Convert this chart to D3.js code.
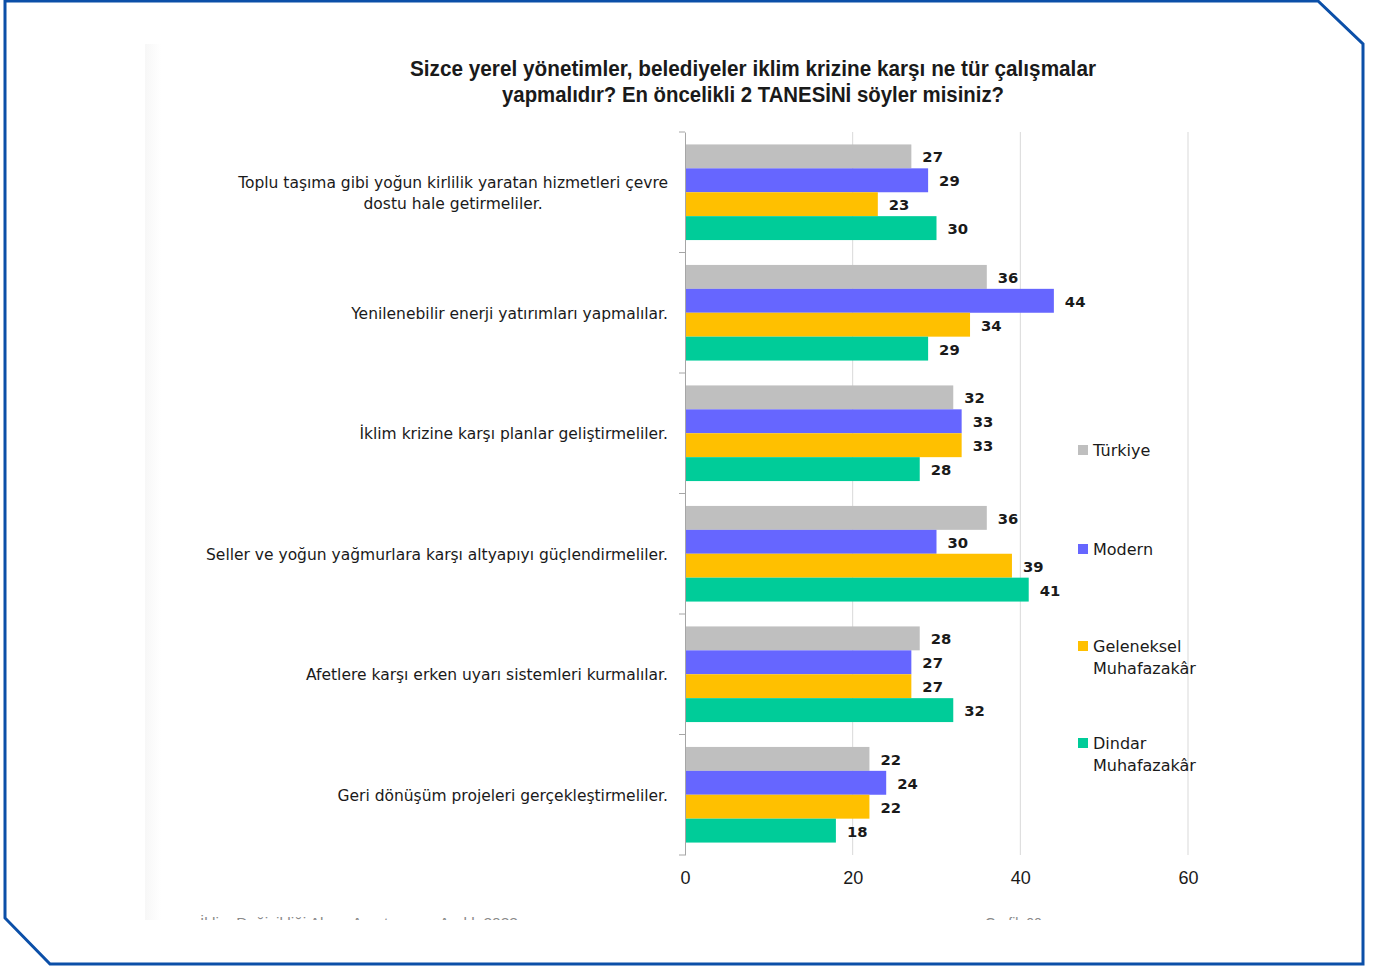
<!DOCTYPE html>
<html><head><meta charset="utf-8">
<script src="https://cdn.jsdelivr.net/npm/d3@7/dist/d3.min.js"></script>
<style>html,body{margin:0;padding:0;background:#fff;}svg{display:block;}</style>
</head><body>
<svg id="c" width="1382" height="967"></svg>
<script>
const categories = [
  ["Toplu taşıma gibi yoğun kirlilik yaratan hizmetleri çevre", "dostu hale getirmeliler."],
  ["Yenilenebilir enerji yatırımları yapmalılar."],
  ["İklim krizine karşı planlar geliştirmeliler."],
  ["Seller ve yoğun yağmurlara karşı altyapıyı güçlendirmeliler."],
  ["Afetlere karşı erken uyarı sistemleri kurmalılar."],
  ["Geri dönüşüm projeleri gerçekleştirmeliler."]
];
const seriesNames = ["Türkiye", "Modern", "Geleneksel Muhafazakâr", "Dindar Muhafazakâr"];
const legendLines = [["Türkiye"], ["Modern"], ["Geleneksel", "Muhafazakâr"], ["Dindar", "Muhafazakâr"]];
const turkiye    = [27, 36, 32, 36, 28, 22];
const modern     = [29, 44, 33, 30, 27, 24];
const geleneksel = [23, 34, 33, 39, 27, 22];
const dindar     = [30, 29, 28, 41, 32, 18];
const xTicks = [0, 20, 40, 60];
const colors = ["#bfbfbf", "#6666ff", "#ffc000", "#00cc99"];
const titleLines = ["Sizce yerel yönetimler, belediyeler iklim krizine karşı ne tür çalışmalar",
                    "yapmalıdır? En öncelikli 2 TANESİNİ söyler misiniz?"];

const seriesValues = [turkiye, modern, geleneksel, dindar];
const catKeys = categories.map((c, i) => "c" + i);

const svg = d3.select("#c");
const defs = svg.append("defs");

// outer frame
svg.append("path")
  .attr("d", "M5,1 L1318,1 L1363,44 L1363,964 L50,964 L5,918 Z")
  .attr("fill", "none").attr("stroke", "#0b4fa8").attr("stroke-width", 3);

// faint panel edge
const grad = defs.append("linearGradient").attr("id", "edge");
grad.append("stop").attr("offset", "0").attr("stop-color", "#f7f7f7");
grad.append("stop").attr("offset", "1").attr("stop-color", "#ffffff");
svg.append("rect").attr("x", 145).attr("y", 44).attr("width", 16).attr("height", 876).attr("fill", "url(#edge)");

defs.append("clipPath").attr("id", "clipFoot")
  .append("rect").attr("x", 0).attr("y", 0).attr("width", 1382).attr("height", 920);

const x = d3.scaleLinear().domain([0, 60]).range([685, 1188]);
const y0 = d3.scaleBand().domain(catKeys).range([132, 855]).padding(0);
const y1 = d3.scaleBand().domain(seriesNames).range([0, y0.bandwidth()]).paddingInner(0).paddingOuter(0.52);

// title
const titleWidths = [686, 502];
svg.append("g").selectAll("text").data(titleLines).join("text")
  .attr("x", 753).attr("y", (d, i) => 76 + i * 26)
  .attr("text-anchor", "middle")
  .attr("font-family", "'Liberation Sans Narrow', 'Arial Narrow', 'Liberation Sans', sans-serif")
  .attr("font-weight", "bold").attr("font-size", 22).attr("fill", "#1a1a1a")
  .attr("textLength", (d, i) => titleWidths[i]).attr("lengthAdjust", "spacingAndGlyphs")
  .text(d => d);

// gridlines
svg.append("g").selectAll("line").data(xTicks.filter(t => t > 0)).join("line")
  .attr("x1", d => x(d)).attr("x2", d => x(d))
  .attr("y1", 132).attr("y2", 855)
  .attr("stroke", "#d9d9d9").attr("stroke-width", 1);

// bars
const groups = svg.append("g").selectAll("g").data(catKeys).join("g")
  .attr("transform", d => `translate(0,${y0(d)})`);

groups.each(function (key, ci) {
  const g = d3.select(this);
  const vals = seriesNames.map((s, si) => ({ s, si, v: seriesValues[si][ci] }));
  g.selectAll("rect").data(vals).join("rect")
    .attr("x", x(0)).attr("y", d => y1(d.s))
    .attr("width", d => x(d.v) - x(0)).attr("height", y1.bandwidth())
    .attr("fill", d => colors[d.si]);
  g.selectAll("text").data(vals).join("text")
    .attr("x", d => x(d.v) + 11).attr("y", d => y1(d.s) + y1.bandwidth() / 2 + 6)
    .attr("font-family", "'DejaVu Sans', sans-serif").attr("font-weight", "bold")
    .attr("font-size", 14.8).attr("fill", "#1a1a1a")
    .text(d => d.v);
});

// y axis (left)
const yAxis = d3.axisLeft(y0).tickSize(0).tickFormat("");
const ya = svg.append("g").attr("transform", `translate(${x(0)},0)`).call(yAxis);
ya.select(".domain").attr("stroke", "#a6a6a6");
const boundaries = catKeys.map(k => y0(k)).concat([y0.range()[1]]);
svg.append("g").selectAll("line").data(boundaries).join("line")
  .attr("x1", x(0) - 6).attr("x2", x(0)).attr("y1", d => d).attr("y2", d => d)
  .attr("stroke", "#a6a6a6").attr("stroke-width", 1);

// category labels
const catG = svg.append("g");
categories.forEach((lines, i) => {
  const cy = y0(catKeys[i]) + y0.bandwidth() / 2;
  const t = catG.append("text")
    .attr("font-family", "'DejaVu Sans', sans-serif")
    .attr("font-size", 15.5).attr("fill", "#1a1a1a");
  const n = lines.length;
  const tsp = lines.map((ln, li) => t.append("tspan")
    .attr("y", cy + 6 + (li - (n - 1) / 2) * 21).text(ln));
  const widths = tsp.map(s => s.node().getComputedTextLength());
  const mw = d3.max(widths);
  tsp.forEach(s => s.attr("x", 668 - mw / 2).attr("text-anchor", "middle"));
});

// x axis labels
const xAxis = d3.axisBottom(x).tickValues(xTicks).tickSize(0).tickPadding(0);
const xa = svg.append("g").attr("transform", "translate(0,871)").call(xAxis);
xa.select(".domain").remove();
xa.selectAll("text")
  .attr("font-family", "'Liberation Sans Narrow', 'Arial Narrow', 'Liberation Sans', sans-serif")
  .attr("font-size", 18).attr("fill", "#1a1a1a").attr("dy", "0.71em");

// legend
const legY = [450, 549, 646, 743];
const lg = svg.append("g").selectAll("g").data(seriesNames).join("g")
  .attr("transform", (d, i) => `translate(1078,${legY[i]})`);
lg.append("rect").attr("x", 0).attr("y", -5).attr("width", 10).attr("height", 10)
  .attr("fill", (d, i) => colors[i]);
lg.each(function (d, i) {
  const t = d3.select(this).append("text")
    .attr("font-family", "'DejaVu Sans', sans-serif")
    .attr("font-size", 16).attr("fill", "#1a1a1a");
  legendLines[i].forEach((ln, li) => t.append("tspan").attr("x", 15).attr("y", 6 + li * 22).text(ln));
});

// faint footer (clipped)
const foot = svg.append("g").attr("clip-path", "url(#clipFoot)");
foot.append("text").attr("x", 200).attr("y", 928)
  .attr("font-family", "'Liberation Sans', sans-serif").attr("font-size", 14).attr("fill", "#8a8a8a")
  .attr("textLength", 318).attr("lengthAdjust", "spacingAndGlyphs")
  .text("İklim Değişikliği Algısı Araştırması, Aralık 2023");
foot.append("text").attr("x", 985).attr("y", 928)
  .attr("font-family", "'Liberation Sans', sans-serif").attr("font-size", 14).attr("fill", "#8a8a8a")
  .text("Grafik 00");
</script>
</body></html>
